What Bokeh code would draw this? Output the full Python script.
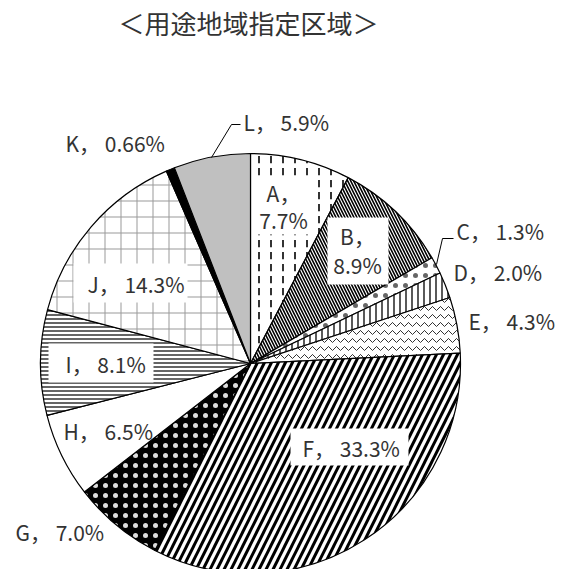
import math
from bokeh.plotting import figure
from bokeh.models import Range1d
from bokeh.embed import file_html
from bokeh.resources import INLINE
from bokeh.core.properties import value

# ---- data ----
title_text = "＜用途地域指定区域＞"
categories = ["A", "B", "C", "D", "E", "F", "G", "H", "I", "J", "K", "L"]
shares = [7.7, 8.9, 1.3, 2.0, 4.3, 33.3, 7.0, 6.5, 8.1, 14.3, 0.66, 5.9]
share_texts = ["7.7%", "8.9%", "1.3%", "2.0%", "4.3%", "33.3%", "7.0%", "6.5%",
               "8.1%", "14.3%", "0.66%", "5.9%"]

# ---- styles (fill, hatch pattern, hatch colour, hatch scale, hatch weight) ----
styles = {
    "A": ("white", ":", "black", 12, 1.6),
    "B": ("white", "\\", "black", 6, 1.6),
    "C": ("white", ".", "#666666", 10, 0.5),
    "D": ("white", "|", "black", 6, 1.3),
    "E": ("white", "v", "#333333", 8, 1.0),
    "F": ("white", "/", "black", 14, 3.0),
    "G": ("black", ".", "#dddddd", 10, 0.5),
    "H": ("white", " ", "black", 12, 1.0),
    "I": ("white", "-", "#222222", 4, 1.4),
    "J": ("white", "+", "#999999", 16, 1.0),
    "K": ("black", " ", "black", 12, 1.0),
    "L": ("#C0C0C0", " ", "black", 12, 1.0),
}

FONT = value("Noto Sans CJK JP")
TXT = "#333333"

def Y(y):
    return 569 - y

p = figure(width=565, height=569, x_range=Range1d(0, 565), y_range=Range1d(0, 569),
           output_backend="svg", toolbar_location=None, min_border=0)
p.axis.visible = False
p.grid.visible = False
p.outline_line_color = None
p.background_fill_color = "white"

cx, cy, r = 250, Y(363), 210
total = sum(shares)
cum = 0.0
for cat, s in zip(categories, shares):
    a0 = math.pi / 2 - 2 * math.pi * cum / total
    cum += s
    a1 = math.pi / 2 - 2 * math.pi * cum / total
    fill, hp, hc, hs, hw = styles[cat]
    p.wedge(x=cx, y=cy, radius=r, start_angle=a0, end_angle=a1, direction="clock",
            fill_color=fill, line_color="black", line_width=1.2,
            hatch_pattern=hp, hatch_color=hc, hatch_scale=hs, hatch_weight=hw)

# ---- label boxes (white) ----
boxes = {
    "A": (255, 176, 312, 234),
    "B": (327, 217, 388, 284),
    "F": (290, 428, 408, 465),
    "I": (48, 343, 153, 382),
    "J": (73, 263, 187, 302),
}
for k, (x0, y0, x1, y1) in boxes.items():
    p.quad(left=x0, right=x1, top=Y(y0), bottom=Y(y1), fill_color="white", line_color=None)

idx = {c: i for i, c in enumerate(categories)}

def lab(cat):
    return f"{cat}，  {share_texts[idx[cat]]}"

single = {
    "C": (456, 230), "D": (453, 271), "E": (468, 320), "F": (302, 447),
    "G": (15, 531), "H": (63, 430), "I": (65, 363), "J": (87, 283),
    "K": (65, 142), "L": (243, 121),
}
for cat, (x, y) in single.items():
    p.text(x=[x], y=[Y(y)], text=[lab(cat)], text_font=FONT, text_font_size="21px",
           text_align="left", text_baseline="middle", text_color=TXT)

double = {"A": (283, 192, 283, 219), "B": (357, 235, 357, 264)}
for cat, (x1, y1, x2, y2) in double.items():
    p.text(x=[x1], y=[Y(y1)], text=[f"{cat}，"], text_font=FONT, text_font_size="21px",
           text_align="center", text_baseline="middle", text_color=TXT)
    p.text(x=[x2], y=[Y(y2)], text=[share_texts[idx[cat]]], text_font=FONT,
           text_font_size="21px", text_align="center", text_baseline="middle",
           text_color=TXT)

# leader lines
p.line(x=[211, 231, 240], y=[Y(157), Y(124), Y(124)], line_color="black", line_width=1)
p.line(x=[436, 442, 453], y=[Y(264), Y(238), Y(238)], line_color="black", line_width=1)

# title
p.text(x=[248], y=[Y(22)], text=[title_text], text_font=FONT, text_font_size="26px",
       text_align="center", text_baseline="middle", text_color=TXT)

open("out.html", "w").write(file_html(p, INLINE))
